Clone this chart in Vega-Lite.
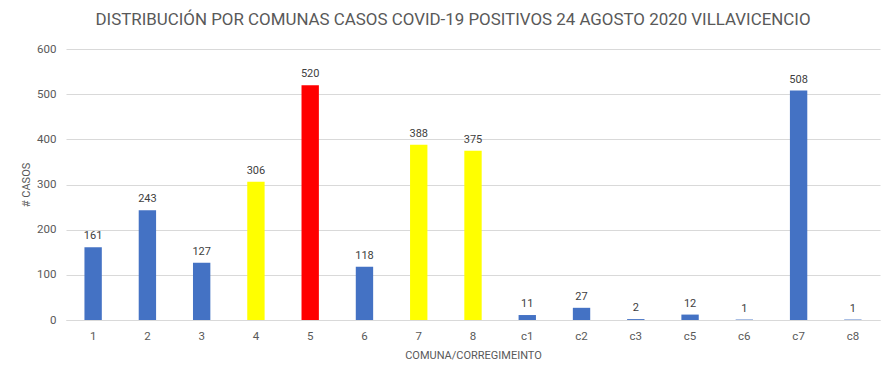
{
  "$schema": "https://vega.github.io/schema/vega-lite/v6.json",
  "width": 814,
  "height": 271,
  "autosize": {"type": "none"},
  "padding": {"left": 66, "top": 49, "right": 16, "bottom": 59},
  "background": "white",
  "config": {
    "view": {"stroke": null},
    "font": "Roboto"
  },
  "title": {
    "text": "DISTRIBUCIÓN POR COMUNAS CASOS COVID-19 POSITIVOS 24 AGOSTO 2020 VILLAVICENCIO",
    "font": "Roboto",
    "fontSize": 16.9,
    "fontWeight": "normal",
    "color": "#595959",
    "anchor": "middle",
    "dx": -20,
    "offset": 14
  },
  "data": {
    "values": [
      {"comuna": "1", "casos": 161, "alerta": "azul"},
      {"comuna": "2", "casos": 243, "alerta": "azul"},
      {"comuna": "3", "casos": 127, "alerta": "azul"},
      {"comuna": "4", "casos": 306, "alerta": "amarilla"},
      {"comuna": "5", "casos": 520, "alerta": "roja"},
      {"comuna": "6", "casos": 118, "alerta": "azul"},
      {"comuna": "7", "casos": 388, "alerta": "amarilla"},
      {"comuna": "8", "casos": 375, "alerta": "amarilla"},
      {"comuna": "c1", "casos": 11, "alerta": "azul"},
      {"comuna": "c2", "casos": 27, "alerta": "azul"},
      {"comuna": "c3", "casos": 2, "alerta": "azul"},
      {"comuna": "c5", "casos": 12, "alerta": "azul"},
      {"comuna": "c6", "casos": 1, "alerta": "azul"},
      {"comuna": "c7", "casos": 508, "alerta": "azul"},
      {"comuna": "c8", "casos": 1, "alerta": "azul"}
    ]
  },
  "encoding": {
    "x": {
      "field": "comuna",
      "type": "nominal",
      "sort": null,
      "scale": {"paddingInner": 0.68, "paddingOuter": 0.34},
      "axis": {
        "title": "COMUNA/CORREGIMEINTO",
        "titleFont": "Roboto",
        "titleFontSize": 11,
        "titleFontWeight": "normal",
        "titleColor": "#595959",
        "titlePadding": 8,
        "labelAngle": 0,
        "labelFont": "Roboto",
        "labelFontSize": 11.5,
        "labelColor": "#595959",
        "labelPadding": 10,
        "ticks": false,
        "domainColor": "#d9d9d9",
        "domainWidth": 1
      }
    },
    "y": {
      "field": "casos",
      "type": "quantitative",
      "scale": {"domain": [0, 600], "nice": false},
      "axis": {
        "title": "# CASOS",
        "titleFont": "Roboto",
        "titleFontSize": 11,
        "titleFontWeight": "normal",
        "titleColor": "#595959",
        "titlePadding": 5,
        "values": [0, 100, 200, 300, 400, 500, 600],
        "labelFont": "Roboto",
        "labelFontSize": 11.5,
        "labelColor": "#595959",
        "labelPadding": 10,
        "ticks": false,
        "domain": false,
        "gridColor": "#d9d9d9",
        "gridWidth": 1
      }
    }
  },
  "layer": [
    {
      "mark": {"type": "bar"},
      "encoding": {
        "color": {
          "field": "alerta",
          "type": "nominal",
          "scale": {"domain": ["azul", "amarilla", "roja"], "range": ["#4472C4", "#FFFF00", "#FF0000"]},
          "legend": null
        }
      }
    },
    {
      "mark": {"type": "text", "dy": -11, "font": "Roboto", "fontSize": 11, "color": "#404040"},
      "encoding": {
        "text": {"field": "casos", "type": "quantitative"}
      }
    }
  ]
}
